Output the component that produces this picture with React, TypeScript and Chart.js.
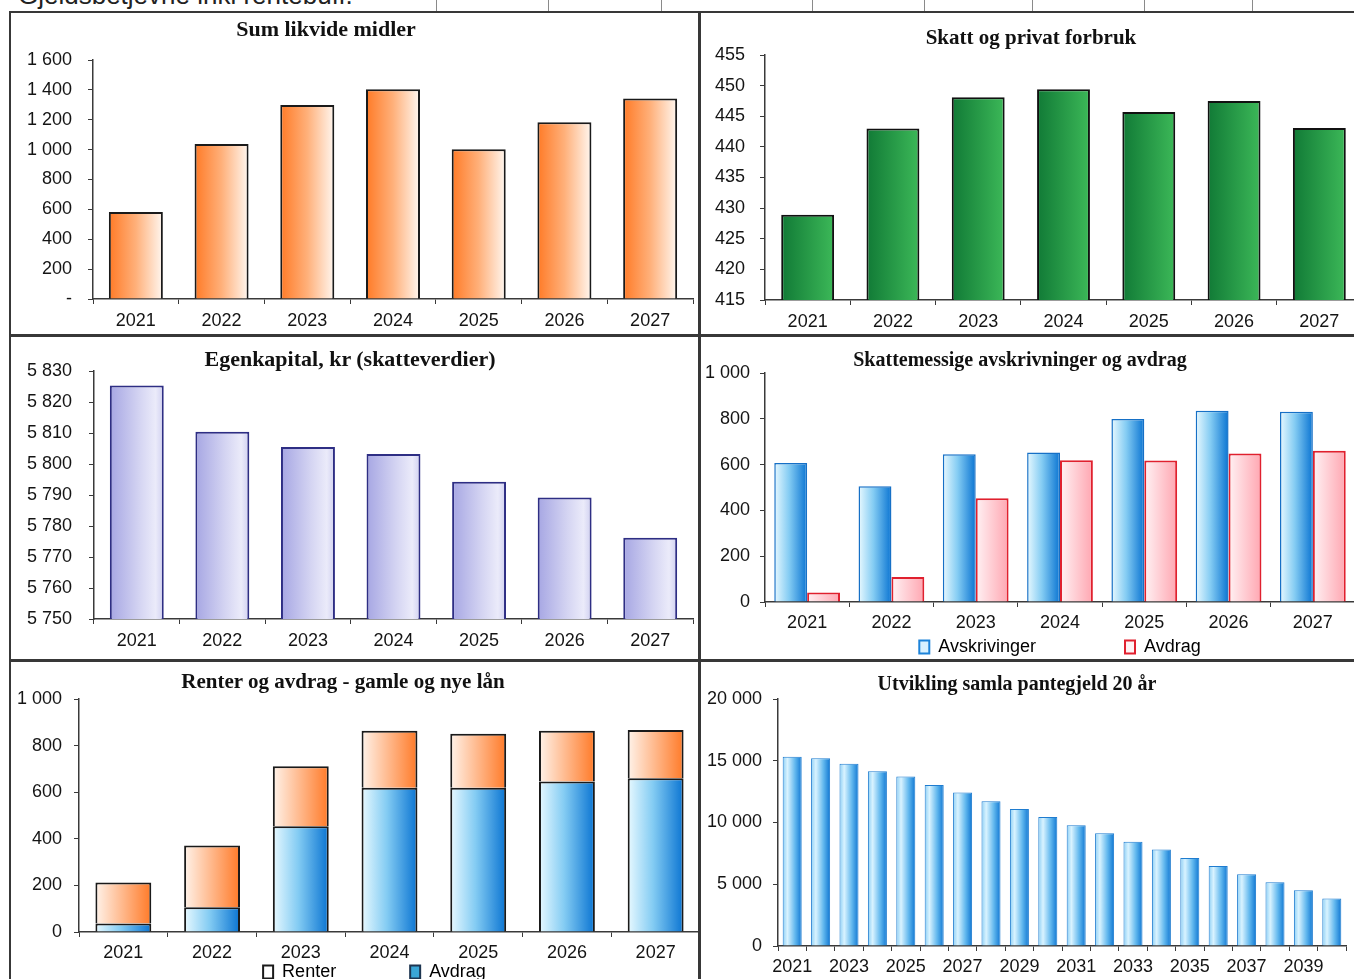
import React, { useEffect, useRef } from 'react';
import { Chart, registerables } from 'chart.js';

Chart.register(...registerables);

const SANS = '"Liberation Sans", Arial, Helvetica, sans-serif';
const SERIF = '"Liberation Serif", "Times New Roman", Times, serif';
const AXIS = '#3a3a3a';
const TEXT = '#141414';

// ---------------- data ----------------
const years = ['2021', '2022', '2023', '2024', '2025', '2026', '2027'];
const likvideMidler = [582, 1037, 1298, 1404, 1002, 1184, 1342];
const skattPrivatForbruk = [428.9, 443.0, 448.1, 449.4, 445.7, 447.5, 443.1];
const egenkapital = [5825.3, 5810.4, 5805.5, 5803.2, 5794.3, 5789.2, 5776.2];
const avskrivinger = [607, 505, 645, 653, 799, 835, 831];
const avdragSkatt = [41, 109, 453, 619, 618, 648, 660];
const avdragLaan = [37, 106, 454, 619, 619, 646, 660];
const renter = [175, 265, 257, 245, 232, 218, 207];
const gjeldYears = [
  '2021', '2022', '2023', '2024', '2025', '2026', '2027', '2028', '2029', '2030',
  '2031', '2032', '2033', '2034', '2035', '2036', '2037', '2038', '2039', '2040',
];
const pantegjeld = [
  15318, 15210, 14750, 14154, 13721, 13045, 12422, 11719, 11096, 10447,
  9770, 9120, 8444, 7821, 7118, 6468, 5819, 5169, 4520, 3843,
];

// y axis: [min, max, step]
const likvideAxis = [0, 1600, 200];
const skattAxis = [415, 455, 5];
const egenkapitalAxis = [5750, 5830, 10];
const avskrAxis = [0, 1000, 200];
const renterAxis = [0, 1000, 200];
const gjeldAxis = [0, 20000, 5000];

// ---------------- styles ----------------
type Stops = [number, string][];
const ORANGE: Stops = [[0, '#ff7a26'], [0.5, '#ffb07a'], [1, '#fff7f0']];
const GREEN: Stops = [[0, '#117a36'], [1, '#3cb858']];
const LAVENDER: Stops = [[0, '#a6a6e3'], [0.55, '#d4d4f2'], [0.85, '#ebebfa'], [1, '#cfcff0']];
const BLUE: Stops = [[0, '#e8f9ff'], [0.45, '#84ccf3'], [1, '#0a74d2']];
const PINK: Stops = [[0, '#fff2f4'], [1, '#ffa6b1']];
const RENTER: Stops = [[0, '#fff3ea'], [1, '#ff7a28']];
const BLUE6: Stops = [[0, '#8ccff5'], [0.25, '#d9f3ff'], [0.65, '#62b8ee'], [1, '#0f76d2']];

function fmt(v: number): string {
  return String(Math.round(v)).replace(/\B(?=(\d{3})+(?!\d))/g, ' ');
}

function gradientFill(stops: Stops, catPct: number, groupCount = 1, groupIndex = 0) {
  return (c: any) => {
    const chart = c.chart;
    const area = chart && chart.chartArea;
    const xs = chart && chart.scales && chart.scales.x;
    if (!area || !xs || c.dataIndex === undefined) return stops[stops.length - 1][1];
    const n = chart.data.labels.length;
    const catW = (area.right - area.left) / n;
    const groupW = catW * catPct;
    const slotW = groupW / groupCount;
    const center = xs.getPixelForValue(c.dataIndex);
    const slotCenter = center - groupW / 2 + slotW * (groupIndex + 0.5);
    const x0 = slotCenter - slotW / 2;
    const x1 = slotCenter + slotW / 2;
    const g = chart.ctx.createLinearGradient(x0, 0, x1, 0);
    stops.forEach(([o, col]) => g.addColorStop(o, col));
    return g;
  };
}

type Spec = {
  padTop: number;
  padRight: number;
  yW: number;
  xH: number;
  y: number[];
  yPad: number;
  xPad: number;
  fontSize: number;
  zeroLabel?: string;
  stacked?: boolean;
  xEvery?: number;
  legend?: any;
};

function baseOptions(s: Spec): any {
  const font = { family: SANS, size: s.fontSize };
  const xTicks: any = {
    color: TEXT,
    font,
    padding: s.xPad,
    autoSkip: false,
    maxRotation: 0,
    minRotation: 0,
  };
  if (s.xEvery) {
    const every = s.xEvery;
    xTicks.callback = function (this: any, v: any, i: number) {
      return i % every === 0 ? this.getLabelForValue(v) : '';
    };
  }
  return {
    responsive: false,
    animation: false,
    events: [],
    layout: { padding: { top: s.padTop, right: s.padRight, bottom: 0, left: 0 } },
    plugins: {
      title: { display: false },
      tooltip: { enabled: false },
      legend: s.legend || { display: false },
    },
    scales: {
      x: {
        stacked: !!s.stacked,
        offset: true,
        grid: {
          display: true,
          offset: true,
          drawOnChartArea: false,
          drawTicks: true,
          tickLength: 5,
          color: AXIS,
          lineWidth: 1,
        },
        border: { display: true, color: AXIS, width: 1.5 },
        ticks: xTicks,
        afterFit: (sc: any) => {
          sc.height = s.xH;
        },
      },
      y: {
        stacked: !!s.stacked,
        min: s.y[0],
        max: s.y[1],
        grid: { drawOnChartArea: false, drawTicks: true, tickLength: 5, color: AXIS, lineWidth: 1 },
        border: { display: true, color: AXIS, width: 1.5 },
        ticks: {
          stepSize: s.y[2],
          color: TEXT,
          font,
          padding: s.yPad,
          callback: (v: any) => (Number(v) === 0 && s.zeroLabel ? s.zeroLabel : fmt(Number(v))),
        },
        afterFit: (sc: any) => {
          sc.width = s.yW;
        },
      },
    },
  };
}

// ---------------- chart configs ----------------
function cfgLikvide(): any {
  return {
    type: 'bar',
    data: {
      labels: years,
      datasets: [
        {
          label: 'Sum likvide midler',
          data: likvideMidler,
          backgroundColor: gradientFill(ORANGE, 0.63),
          borderColor: '#1a1a1a',
          borderWidth: 2,
          borderSkipped: 'start',
          categoryPercentage: 0.63,
          barPercentage: 1,
        },
      ],
    },
    options: baseOptions({ padTop: 46, padRight: 5, yW: 81, xH: 30, y: likvideAxis, yPad: 16, xPad: 6, fontSize: 18, zeroLabel: '-' }),
  };
}

function cfgSkatt(): any {
  return {
    type: 'bar',
    data: {
      labels: years,
      datasets: [
        {
          label: 'Skatt og privat forbruk',
          data: skattPrivatForbruk,
          backgroundColor: gradientFill(GREEN, 0.62),
          borderColor: '#111',
          borderWidth: 2,
          borderSkipped: 'start',
          categoryPercentage: 0.62,
          barPercentage: 1,
        },
      ],
    },
    options: baseOptions({ padTop: 41, padRight: 5, yW: 63, xH: 30, y: skattAxis, yPad: 15, xPad: 6, fontSize: 18 }),
  };
}

function cfgEgenkapital(): any {
  return {
    type: 'bar',
    data: {
      labels: years,
      datasets: [
        {
          label: 'Egenkapital, kr (skatteverdier)',
          data: egenkapital,
          backgroundColor: gradientFill(LAVENDER, 0.63),
          borderColor: '#2e2e84',
          borderWidth: 2,
          borderSkipped: 'start',
          categoryPercentage: 0.63,
          barPercentage: 1,
        },
      ],
    },
    options: baseOptions({ padTop: 33, padRight: 5, yW: 82, xH: 30, y: egenkapitalAxis, yPad: 17, xPad: 6, fontSize: 18 }),
  };
}

function cfgAvskrivinger(): any {
  const legend = {
    display: true,
    position: 'bottom',
    fullSize: false,
    labels: {
      color: TEXT,
      font: { family: SANS, size: 18 },
      boxWidth: 10,
      boxHeight: 13,
      padding: 9,
      generateLabels: () => [
        { text: 'Avskrivinger' + ' '.repeat(16), fillStyle: '#d8f1ff', strokeStyle: '#1d83d9', lineWidth: 2, hidden: false, datasetIndex: 0 },
        { text: 'Avdrag', fillStyle: '#fff2f4', strokeStyle: '#e0202e', lineWidth: 2, hidden: false, datasetIndex: 1 },
      ],
    },
  };
  return {
    type: 'bar',
    data: {
      labels: years,
      datasets: [
        {
          label: 'Avskrivinger',
          data: avskrivinger,
          backgroundColor: gradientFill(BLUE, 0.78, 2, 0),
          borderColor: '#1670c6',
          borderWidth: 1.5,
          borderSkipped: 'start',
          categoryPercentage: 0.78,
          barPercentage: 1,
        },
        {
          label: 'Avdrag',
          data: avdragSkatt,
          backgroundColor: gradientFill(PINK, 0.78, 2, 1),
          borderColor: '#e0202e',
          borderWidth: 2,
          borderSkipped: 'start',
          categoryPercentage: 0.78,
          barPercentage: 1,
        },
      ],
    },
    options: baseOptions({ padTop: 35, padRight: 5, yW: 63, xH: 27, y: avskrAxis, yPad: 10, xPad: 5, fontSize: 18, legend }),
  };
}

function cfgRenter(): any {
  const legend = {
    display: true,
    position: 'bottom',
    fullSize: false,
    labels: {
      color: TEXT,
      font: { family: SANS, size: 18 },
      boxWidth: 10,
      boxHeight: 13,
      padding: 4,
      generateLabels: () => [
        { text: 'Renter' + ' '.repeat(14), fillStyle: '#ffffff', strokeStyle: '#1a1a1a', lineWidth: 2, hidden: false, datasetIndex: 1 },
        { text: 'Avdrag' + ' '.repeat(6), fillStyle: '#3aa6d6', strokeStyle: '#1d3550', lineWidth: 2, hidden: false, datasetIndex: 0 },
      ],
    },
  };
  return {
    type: 'bar',
    data: {
      labels: years,
      datasets: [
        {
          label: 'Avdrag',
          data: avdragLaan,
          backgroundColor: gradientFill(BLUE, 0.63),
          borderColor: '#1a1a1a',
          borderWidth: 2,
          borderSkipped: 'start',
          categoryPercentage: 0.63,
          barPercentage: 1,
        },
        {
          label: 'Renter',
          data: renter,
          backgroundColor: gradientFill(RENTER, 0.63),
          borderColor: '#1a1a1a',
          borderWidth: 2,
          borderSkipped: 'start',
          categoryPercentage: 0.63,
          barPercentage: 1,
        },
      ],
    },
    options: baseOptions({ padTop: 36, padRight: 3, yW: 67, xH: 27, y: renterAxis, yPad: 12, xPad: 5, fontSize: 18, stacked: true, legend }),
  };
}

function cfgGjeld(): any {
  return {
    type: 'bar',
    data: {
      labels: gjeldYears,
      datasets: [
        {
          label: 'Utvikling samla pantegjeld 20 år',
          data: pantegjeld,
          backgroundColor: gradientFill(BLUE6, 0.67),
          borderColor: '#1f7ccf',
          borderWidth: 1,
          borderSkipped: 'start',
          categoryPercentage: 0.67,
          barPercentage: 1,
        },
      ],
    },
    options: baseOptions({ padTop: 36, padRight: 5, yW: 76, xH: 30, y: gjeldAxis, yPad: 11, xPad: 5, fontSize: 18, xEvery: 2 }),
  };
}

// ---------------- components ----------------
type BoxProps = { left: number; top: number; width: number; height: number; build: () => any };

function ChartCanvas({ left, top, width, height, build }: BoxProps) {
  const ref = useRef<HTMLCanvasElement | null>(null);
  useEffect(() => {
    if (!ref.current) return;
    const chart = new Chart(ref.current, build());
    return () => chart.destroy();
  }, []);
  return (
    <canvas
      ref={ref}
      width={width}
      height={height}
      style={{ position: 'absolute', left, top, width, height }}
    />
  );
}

function Title({ cx, top, size, children }: { cx: number; top: number; size: number; children: React.ReactNode }) {
  return (
    <div
      style={{
        position: 'absolute',
        left: cx - 300,
        top,
        width: 600,
        textAlign: 'center',
        fontFamily: SERIF,
        fontWeight: 'bold',
        fontSize: size,
        lineHeight: '24px',
        color: '#111',
        whiteSpace: 'nowrap',
      }}
    >
      {children}
    </div>
  );
}

function Line({ left, top, width, height, color = '#383838' }: { left: number; top: number; width: number; height: number; color?: string }) {
  return <div style={{ position: 'absolute', left, top, width, height, background: color }} />;
}

const topGridX = [436, 548, 661, 812, 924, 1032, 1144, 1252];

export default function App() {
  return (
    <div
      style={{
        position: 'fixed',
        left: 0,
        top: 0,
        width: 1354,
        height: 979,
        overflow: 'hidden',
        background: '#ffffff',
      }}
    >
      {/* clipped heading from the page above */}
      <div
        style={{
          position: 'absolute',
          left: 18,
          top: -18,
          fontFamily: SANS,
          fontSize: 26,
          lineHeight: '26px',
          color: '#222',
          whiteSpace: 'nowrap',
        }}
      >
        Gjeldsbetjevne inkl rentebuff.
      </div>
      {topGridX.map((x) => (
        <Line key={x} left={x} top={0} width={1} height={12} color="#8a8a8a" />
      ))}

      <ChartCanvas left={12} top={14} width={686} height={315} build={cfgLikvide} />
      <ChartCanvas left={702} top={14} width={665} height={316} build={cfgSkatt} />
      <ChartCanvas left={12} top={338} width={686} height={311} build={cfgEgenkapital} />
      <ChartCanvas left={702} top={338} width={658} height={328} build={cfgAvskrivinger} />
      <ChartCanvas left={12} top={663} width={691} height={328} build={cfgRenter} />
      <ChartCanvas left={702} top={663} width={649} height={313} build={cfgGjeld} />

      <Title cx={326} top={17} size={22}>Sum likvide midler</Title>
      <Title cx={1031} top={25} size={21}>Skatt og privat forbruk</Title>
      <Title cx={350} top={347} size={22}>Egenkapital, kr (skatteverdier)</Title>
      <Title cx={1020} top={347} size={20}>Skattemessige avskrivninger og avdrag</Title>
      <Title cx={343} top={669} size={21}>Renter og avdrag - gamle og nye lån</Title>
      <Title cx={1017} top={671} size={20}>Utvikling samla pantegjeld 20 år</Title>

      {/* panel frame */}
      <Line left={9} top={11} width={1345} height={2} />
      <Line left={9} top={11} width={2} height={968} />
      <Line left={698} top={11} width={2.5} height={968} />
      <Line left={9} top={334} width={1345} height={2.5} />
      <Line left={9} top={659} width={1345} height={2.5} />
    </div>
  );
}
